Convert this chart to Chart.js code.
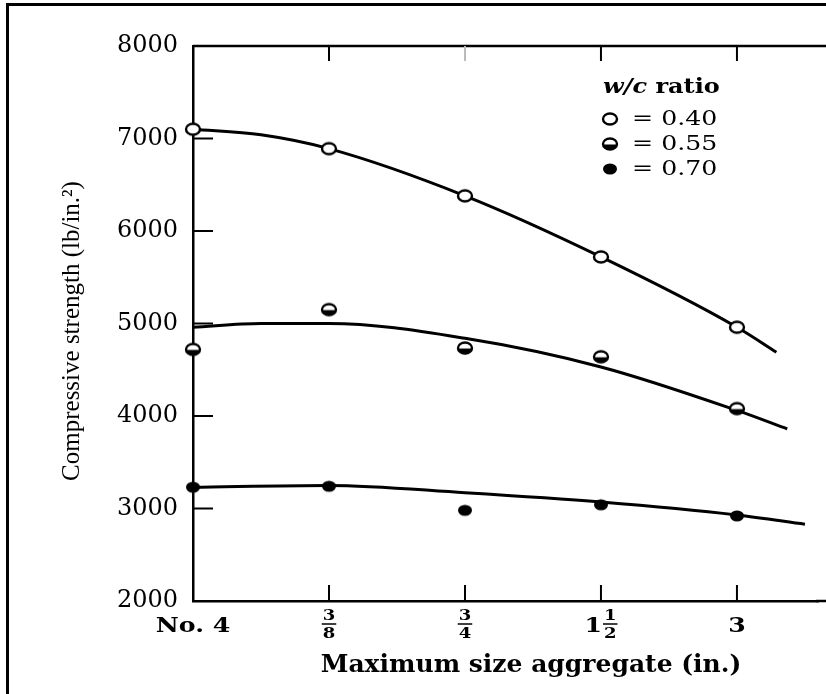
<!DOCTYPE html>
<html>
<head>
<meta charset="utf-8">
<script src="https://cdn.jsdelivr.net/npm/chart.js@4/dist/chart.umd.min.js"></script>
<style>
  html, body { margin: 0; padding: 0; background: #fff; overflow: hidden; }
  #wrap { position: relative; width: 826px; height: 694px; overflow: hidden; }
  #marco { position: absolute; left: 6px; top: 3px; right: 0; bottom: 0;
           border-left: 3px solid #000; border-top: 3px solid #000; pointer-events: none; }
</style>
</head>
<body>
<div id="wrap">
  <canvas id="grafico" width="826" height="694"></canvas>
  <div id="marco"></div>
</div>
<script>
// Resistencia a compresión frente al tamaño máximo de árido, para tres relaciones a/c.
// Eje x: posiciones de categoría 0..4 (No. 4, 3/8, 3/4, 1 1/2, 3 in.)

const xPuntos = [0, 1, 2, 3, 4];
const tickEntero = ["No. 4", "", "", "1", "3"];
const tickNum    = ["", "3", "3", "1", ""];
const tickDen    = ["", "8", "4", "2", ""];

const tituloX = "Maximum size aggregate (in.)";
const tituloY = "Compressive strength (lb/in.²)";

const relaciones = ["0.40", "0.55", "0.70"];
const valores040 = [7100, 6890, 6380, 5720, 4960];
const valores055 = [4720, 5150, 4735, 4640, 4080];
const valores070 = [3230, 3240, 2980, 3040, 2920];

// curvas de ajuste
const curvaX040 = [0, 0.5, 1, 2, 3, 4, 4.29];
const curvaY040 = [7100, 7040, 6890, 6380, 5720, 4960, 4690];
const curvaX055 = [0, 0.5, 1, 2, 3, 4, 4.37];
const curvaY055 = [4960, 5000, 5000, 4840, 4530, 4060, 3860];
const curvaX070 = [0, 1, 2, 3, 4, 4.5];
const curvaY070 = [3230, 3250, 3170, 3070, 2930, 2830];

const yTicks = [2000, 3000, 4000, 5000, 6000, 7000, 8000];

const SERIF = "'DejaVu Serif', serif";
const ESTIRA = 1.2; // el texto del original es más ancho que alto

function marcador(tipo) {
  const c = document.createElement("canvas");
  c.width = 20; c.height = 16;
  const g = c.getContext("2d");
  g.beginPath();
  g.ellipse(10, 8, 7, 5.5, 0, 0, Math.PI * 2);
  if (tipo === "lleno") {
    g.fillStyle = "#000"; g.fill();
  } else {
    g.fillStyle = "#fff"; g.fill();
    if (tipo === "medio") {
      g.save(); g.clip();
      g.fillStyle = "#000"; g.fillRect(0, 8.5, 20, 10);
      g.restore();
    }
    g.lineWidth = 2.4; g.strokeStyle = "#000"; g.stroke();
  }
  return c;
}

const marcadores = [marcador("vacio"), marcador("medio"), marcador("lleno")];

function pares(xs, ys) { return xs.map((x, i) => ({ x, y: ys[i] })); }

function curva(xs, ys) {
  return {
    data: pares(xs, ys), showLine: true, pointRadius: 0, borderColor: "#000",
    borderWidth: 3, cubicInterpolationMode: "monotone", order: 2,
  };
}

function puntos(ys, k) {
  return {
    data: pares(xPuntos, ys), showLine: false, pointStyle: marcadores[k],
    pointRadius: 7, clip: false, order: 1,
  };
}

// texto ensanchado horizontalmente, anclado en x según align
function texto(ctx, t, x, y, align) {
  const w = ctx.measureText(t).width * ESTIRA;
  const x0 = align === "center" ? x - w / 2 : x;
  ctx.save();
  ctx.textAlign = "left";
  ctx.translate(x0, y);
  ctx.scale(ESTIRA, 1);
  ctx.fillText(t, 0, 0);
  ctx.restore();
  return w;
}

// Marco superior, ticks hacia dentro, etiquetas de x con fracciones, títulos y leyenda.
const decorado = {
  id: "decorado",
  afterDraw(chart) {
    const ctx = chart.ctx;
    const a = chart.chartArea;
    const sx = chart.scales.x, sy = chart.scales.y;
    ctx.save();
    ctx.strokeStyle = "#000";
    ctx.lineWidth = 2.5;
    ctx.beginPath(); ctx.moveTo(a.left, a.top); ctx.lineTo(chart.width, a.top); ctx.stroke();
    ctx.beginPath(); ctx.moveTo(a.right - 2, a.bottom); ctx.lineTo(chart.width, a.bottom); ctx.stroke();

    ctx.lineWidth = 2;
    for (let i = 1; i < xPuntos.length; i++) {
      const px = sx.getPixelForValue(xPuntos[i]);
      ctx.beginPath(); ctx.moveTo(px, a.bottom); ctx.lineTo(px, a.bottom - 16); ctx.stroke();
      ctx.strokeStyle = i === 2 ? "#bbb" : "#000";
      ctx.beginPath(); ctx.moveTo(px, a.top); ctx.lineTo(px, a.top + 15); ctx.stroke();
      ctx.strokeStyle = "#000";
    }
    for (const v of yTicks.slice(1, -1)) {
      const py = sy.getPixelForValue(v);
      ctx.beginPath(); ctx.moveTo(a.left, py); ctx.lineTo(a.left + 20, py); ctx.stroke();
    }

    // etiquetas del eje x
    ctx.fillStyle = "#000";
    ctx.textBaseline = "alphabetic";
    const yBase = a.bottom + 31;
    for (let i = 0; i < xPuntos.length; i++) {
      const px = sx.getPixelForValue(xPuntos[i]);
      const ent = tickEntero[i];
      if (!tickNum[i]) {
        ctx.font = "bold 21px " + SERIF;
        texto(ctx, ent, px, yBase, "center");
        continue;
      }
      ctx.font = "bold 15px " + SERIF;
      const wf = Math.max(ctx.measureText(tickNum[i]).width, ctx.measureText(tickDen[i]).width) * ESTIRA + 2;
      let xf = px;
      if (ent) {
        ctx.font = "bold 21px " + SERIF;
        const we = ctx.measureText(ent).width * ESTIRA;
        const total = we + 1 + wf;
        texto(ctx, ent, px - total / 2, yBase, "left");
        xf = px - total / 2 + we + 1 + wf / 2;
      }
      ctx.font = "bold 15px " + SERIF;
      texto(ctx, tickNum[i], xf, yBase - 12, "center");
      texto(ctx, tickDen[i], xf, yBase + 6, "center");
      ctx.lineWidth = 1.5;
      ctx.beginPath(); ctx.moveTo(xf - wf / 2, yBase - 8); ctx.lineTo(xf + wf / 2, yBase - 8); ctx.stroke();
    }

    // títulos de los ejes
    ctx.font = "bold 25px " + SERIF;
    ctx.textAlign = "center";
    ctx.textBaseline = "middle";
    ctx.fillText(tituloX, 531, 665);
    ctx.save();
    ctx.translate(72, 331);
    ctx.rotate(-Math.PI / 2);
    ctx.font = "25px 'Liberation Serif', serif";
    ctx.fillText(tituloY, 0, 0);
    ctx.restore();

    // leyenda
    ctx.font = "italic bold 20px " + SERIF;
    const w = texto(ctx, "w/c ", 603, 88, "left");
    ctx.font = "bold 20px " + SERIF;
    texto(ctx, "ratio", 603 + w, 88, "left");
    const filas = [119, 144, 169];
    ctx.font = "21px " + SERIF;
    relaciones.forEach((r, k) => {
      ctx.drawImage(marcadores[k], 600, filas[k] - 8);
      texto(ctx, "= " + r, 632, filas[k] + 1, "left");
    });
    ctx.restore();
  },
};

new Chart(document.getElementById("grafico"), {
  type: "scatter",
  data: {
    datasets: [
      curva(curvaX040, curvaY040),
      curva(curvaX055, curvaY055),
      curva(curvaX070, curvaY070),
      puntos(valores040, 0),
      puntos(valores055, 1),
      puntos(valores070, 2),
    ],
  },
  options: {
    responsive: false,
    animation: false,
    layout: { padding: { top: 46, right: 0, left: 0, bottom: 0 } },
    plugins: { legend: { display: false }, tooltip: { enabled: false } },
    scales: {
      x: {
        type: "linear", min: 0, max: 4.596,
        ticks: { display: false, stepSize: 1 },
        grid: { drawOnChartArea: false, drawTicks: false },
        border: { display: true, color: "#000", width: 2.5 },
        afterFit(s) { s.height = 93; },
      },
      y: {
        min: 2000, max: 8000,
        afterBuildTicks(s) { s.ticks = yTicks.map((v) => ({ value: v })); },
        ticks: { color: "#000", padding: 15, font: { family: SERIF, size: 24 }, callback: (v) => String(v) },
        grid: { drawOnChartArea: false, drawTicks: false },
        border: { display: true, color: "#000", width: 2.5 },
        afterFit(s) { s.width = 193; },
      },
    },
  },
  plugins: [decorado],
});
</script>
</body>
</html>
